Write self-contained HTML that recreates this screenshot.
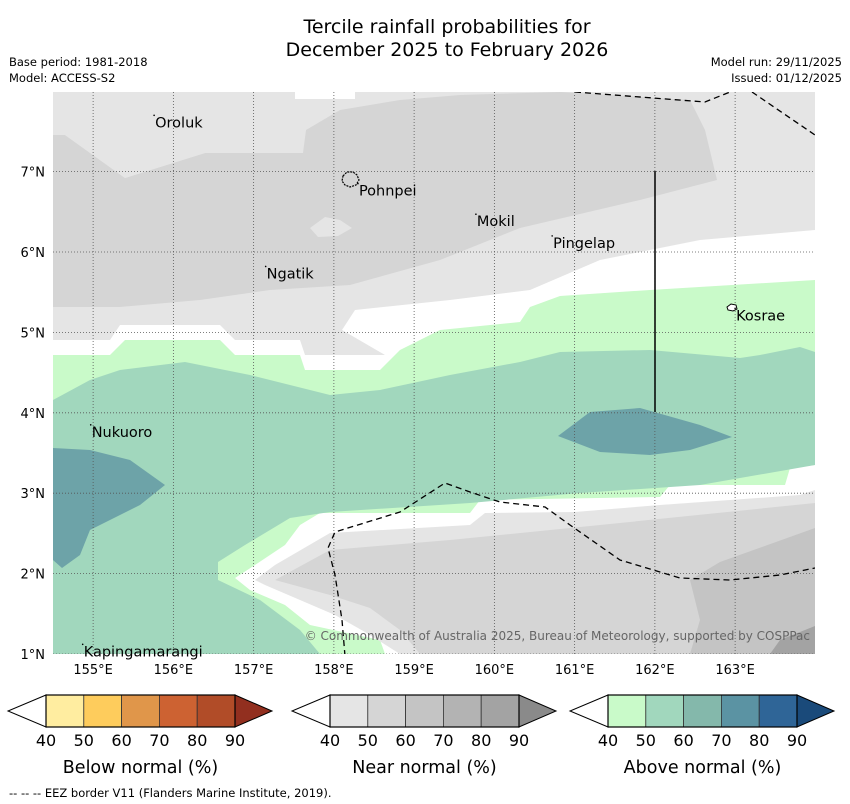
<!DOCTYPE html>
<html><head><meta charset="utf-8"><style>
body{margin:0;background:#fff;font-family:"DejaVu Sans","Liberation Sans",sans-serif;}
#root{position:relative;width:850px;height:804px;overflow:hidden;}
</style></head><body>
<div id="root">
<svg id="svg" width="850" height="804" xmlns="http://www.w3.org/2000/svg" font-family="DejaVu Sans, Liberation Sans, sans-serif">
<text x="447" y="33" font-size="19" text-anchor="middle">Tercile rainfall probabilities for</text>
<text x="447" y="56" font-size="19" text-anchor="middle">December 2025 to February 2026</text>
<text x="9" y="66" font-size="11.5">Base period: 1981-2018</text>
<text x="9" y="82" font-size="11.5">Model: ACCESS-S2</text>
<text x="842" y="66" font-size="11.5" text-anchor="end">Model run: 29/11/2025</text>
<text x="842" y="82" font-size="11.5" text-anchor="end">Issued: 01/12/2025</text>
<defs><clipPath id="mapclip"><rect x="53" y="92" width="762" height="562"/></clipPath></defs>
<g id="map" clip-path="url(#mapclip)"></g>
<g id="labels"></g>
<g id="axes"></g>
<g id="cbars"></g>
<text x="9" y="797" font-size="11.5">--  --  -- EEZ border V11 (Flanders Marine Institute, 2019).</text>
</svg>
</div>
<script>
const lonTicks=[155,156,157,158,159,160,161,162,163];
const latTicks=[1,2,3,4,5,6,7];
const levels=[40,50,60,70,80,90];
const belowColors=["#ffeda0","#fecc5c","#e0964a","#cd6232","#b14c28"];
const nearColors=["#e5e5e5","#d5d5d5","#c4c4c4","#b3b3b3","#a3a3a3"];
const aboveColors=["#c9fac9","#a1d7bd","#84b8ab","#5b93a3","#2f6597"];
const extendColors=["#922f1f","#8a8a8a","#1a4a7a"];
const cbarTitles=["Below normal (%)","Near normal (%)","Above normal (%)"];
const places=[["Oroluk",155.76,7.7],["Pohnpei",158.3,6.85],["Mokil",159.77,6.47],["Pingelap",160.72,6.2],["Ngatik",157.15,5.82],["Kosrae",163.0,5.3],["Nukuoro",154.97,3.85],["Kapingamarangi",154.87,1.12]];
const NS="http://www.w3.org/2000/svg";
const X=lon=>53+(lon-154.5)*80.25, Y=lat=>654-(lat-1)*80.4;
const map=document.getElementById('map'),labels=document.getElementById('labels'),axes=document.getElementById('axes'),cb=document.getElementById('cbars');
function el(t,a,p){const e=document.createElementNS(NS,t);for(const k in a)e.setAttribute(k,a[k]);p.appendChild(e);return e;}
function poly(pts,fill,name){const e=el('polygon',{points:pts.map(p=>p.join(',')).join(' '),fill:fill},map);

}
el('rect',{x:53,y:92,width:762,height:562,fill:'#fff'},map);
poly([[53,92],[815,92],[815,230],[700,240],[600,260],[530,290],[450,300],[355,310],[342,330],[385,355],[305,355],[300,340],[235,340],[220,325],[120,325],[110,340],[53,340]],nearColors[0],'near-40-north');
poly([[53,135],[65,135],[125,178],[205,153],[303,153],[306,130],[340,110],[400,100],[460,95],[560,92],[690,100],[705,130],[717,180],[640,200],[520,228],[440,260],[350,285],[270,290],[200,300],[120,307],[53,307]],nearColors[1],'near-50-north');
poly([[310,228],[325,217],[340,220],[352,228],[338,236],[318,237]],nearColors[0],'near-40-patch');
poly([[53,92],[303,92],[306,130],[300,153],[205,153],[125,178],[65,135],[53,135]],nearColors[0],'near-40-northwest');
poly([[295,92],[355,92],[355,99],[295,99]],'#fff','white-patch');
poly([[53,355],[110,355],[125,340],[220,340],[235,355],[300,355],[305,370],[380,370],[400,350],[440,330],[520,322],[530,307],[560,296],[650,290],[815,280],[815,654],[53,654]],aboveColors[0],'above-40');
poly([[815,465],[790,468],[785,485],[670,485],[660,497],[480,500],[470,513],[320,513],[300,525],[285,545],[255,565],[235,578],[250,590],[285,605],[310,625],[380,640],[385,654],[815,654]],'#fff','white-south');
poly([[255,580],[275,565],[330,533],[470,525],[485,513],[575,512],[660,505],[800,495],[815,490],[815,654],[400,654],[365,632],[335,615],[300,600],[265,585]],nearColors[0],'near-40-south');
poly([[275,580],[330,550],[450,540],[600,525],[815,503],[815,654],[420,654],[400,630],[370,608],[330,595]],nearColors[1],'near-50-south');
poly([[690,580],[720,562],[815,528],[815,654],[690,654],[700,620]],nearColors[2],'near-60-south');
poly([[780,640],[815,626],[815,654],[770,654]],nearColors[4],'near-80-south');
poly([[53,400],[90,380],[120,370],[185,362],[250,375],[330,395],[380,390],[450,375],[520,362],[560,352],[650,350],[740,358],[760,355],[800,347],[815,352],[815,465],[700,485],[580,493],[470,503],[330,512],[290,518],[245,545],[218,562],[218,580],[260,600],[300,630],[320,654],[53,654]],aboveColors[1],'above-50');
poly([[53,448],[90,450],[130,460],[165,485],[140,505],[90,530],[80,555],[62,568],[53,560]],'#6da3a8','above-60-west');
poly([[558,436],[590,412],[640,408],[700,425],[732,437],[690,450],[650,455],[600,452]],'#6da3a8','above-60-east');
lonTicks.forEach(l=>{const g=el('line',{x1:X(l),x2:X(l),y1:92,y2:654,stroke:'#555','stroke-width':0.8,'stroke-dasharray':'1,2'},map);

});
latTicks.forEach(l=>{const g=el('line',{x1:53,x2:815,y1:Y(l),y2:Y(l),stroke:'#555','stroke-width':0.8,'stroke-dasharray':'1,2'},map);

});
[[[575,92],[705,102],[740,88]],[[752,92],[815,135]],[[345,656],[342,620],[335,575],[328,548],[335,532],[400,512],[445,483],[470,492],[500,502],[545,507],[570,525],[620,560],[680,578],[730,580],[780,575],[815,568]]].forEach(p=>{const e=el('polyline',{points:p.map(q=>q.join(',')).join(' '),fill:'none',stroke:'#000','stroke-width':1.3,'stroke-dasharray':'6,4'},map);

});
const vl=el('line',{x1:655,x2:655,y1:171,y2:412,stroke:'#000','stroke-width':1.5},map);


const pn=el('path',{d:'M343,176 l4,-4 l6,0 l4,3 l2,5 l-3,5 l-6,2 l-5,-2 l-3,-4z',fill:'none',stroke:'#000','stroke-width':1.2,'stroke-dasharray':'2,1'},map);


const ks=el('path',{d:'M727,307 l4,-3 l5,1 l1,4 l-4,2 l-5,-1z',fill:'#fff',stroke:'#000','stroke-width':1},map);


places.forEach(p=>{const x=X(p[1]),y=Y(p[2]);
const d=el('circle',{cx:x,cy:y,r:0.8,fill:'#000'},labels);


const t=el('text',{x:x+1,y:y+12,'font-size':14.5},labels);t.textContent=p[0];

});
const cp=el('text',{x:810,y:640,'font-size':12,fill:'#666','text-anchor':'end'},labels);cp.textContent='© Commonwealth of Australia 2025, Bureau of Meteorology, supported by COSPPac';


lonTicks.forEach(l=>{const t=el('text',{x:X(l),y:674,'font-size':13,'text-anchor':'middle'},axes);t.textContent=l+'°E';

});
latTicks.forEach(l=>{const t=el('text',{x:45,y:Y(l)+5,'font-size':13,'text-anchor':'end'},axes);t.textContent=l+'°N';

});
const starts=[46,330,608],sw=37.8;
[belowColors,nearColors,aboveColors].forEach((cols,i)=>{const x0=starts[i],x1=x0+sw*cols.length;
const lt=el('polygon',{points:`${x0},695 ${x0-38},711 ${x0},727`,fill:'#fff',stroke:'#000','stroke-width':1},cb);


cols.forEach((c,j)=>{const r=el('rect',{x:x0+j*sw,y:695,width:sw,height:32,fill:c,stroke:'#333','stroke-width':0.8},cb);

});
const rt=el('polygon',{points:`${x1},695 ${x1+37},711 ${x1},727`,fill:extendColors[i],stroke:'#000','stroke-width':1},cb);


el('rect',{x:x0,y:695,width:x1-x0,height:32,fill:'none',stroke:'#000','stroke-width':1.2},cb);
levels.forEach((v,j)=>{const t=el('text',{x:x0+j*sw,y:746,'font-size':16,'text-anchor':'middle'},cb);t.textContent=v;

});
const tt=el('text',{x:(x0+x1)/2,y:773,'font-size':17.5,'text-anchor':'middle'},cb);tt.textContent=cbarTitles[i];

});
</script>
</body></html>
